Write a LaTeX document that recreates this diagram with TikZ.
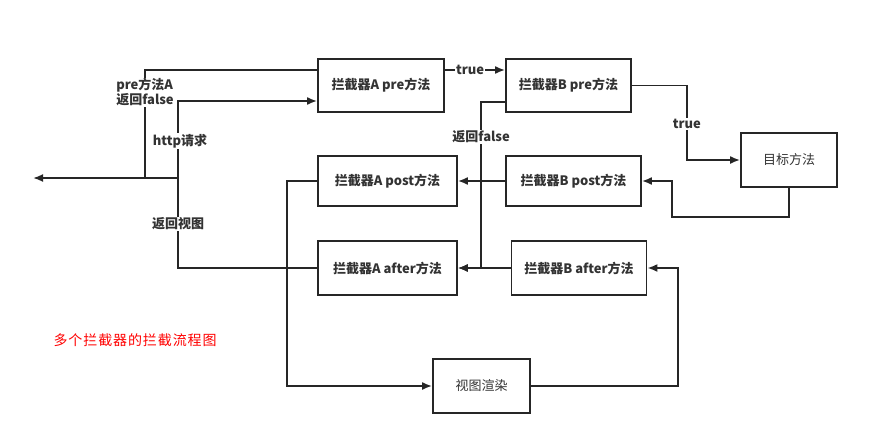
\documentclass[tikz,border=0pt]{standalone}
\usepackage{fontspec}
\setmainfont{Noto Sans CJK SC}
\newfontfamily\notefont[LetterSpace=6.5]{Noto Sans CJK SC}
\usetikzlibrary{arrows.meta}
\definecolor{linec}{HTML}{262626}
\definecolor{txtc}{HTML}{333333}

\begin{document}
\begin{tikzpicture}[x=1pt,y=-1pt,>={Latex[length=10pt,width=8pt]},
  blk/.style={draw=linec,line width=1.8pt,fill=white,text=txtc,font=\bfseries\fontsize{13}{15}\selectfont},
  plainblk/.style={blk,font=\fontsize{13}{15}\selectfont},
  lbl/.style={fill=white,inner sep=1pt,text=txtc,font=\bfseries\fontsize{13}{15}\selectfont},
  wire/.style={draw=linec,line width=1.8pt}]
\useasboundingbox (0,0) rectangle (880,436);

% boxes
\node[blk,minimum width=126pt,minimum height=53pt] (apre) at (381,85.5) {拦截器A pre方法};
\node[blk,minimum width=125pt,minimum height=53pt] (bpre) at (568.5,85.5) {拦截器B pre方法};
\node[blk,minimum width=139pt,minimum height=50pt] (apost) at (387.5,181) {拦截器A post方法};
\node[blk,minimum width=135pt,minimum height=50pt] (bpost) at (573.5,181) {拦截器B post方法};
\node[blk,minimum width=139pt,minimum height=54pt] (aafter) at (387.5,268) {拦截器A after方法};
\node[blk,minimum width=135pt,minimum height=54pt] (bafter) at (579,268) {拦截器B after方法};
\node[plainblk,minimum width=96pt,minimum height=54pt] (target) at (789,160) {目标方法};
\node[plainblk,minimum width=97pt,minimum height=54pt] (render) at (481.5,386) {视图渲染};

\node[text=red,font=\notefont\fontsize{14}{16}\selectfont,anchor=west] (title) at (50,340) {多个拦截器的拦截流程图};

% left side
\coordinate (exit) at (33,178);
\coordinate (ja) at (145,178);
\coordinate (jb) at (178,178);
\draw[wire,->] (jb) -- (exit);
\draw[wire] ([yshift=15.5pt]apre.west) -| (ja)
  node[lbl,align=left,pos=0.604] (lfa) {pre方法A\\返回false};
\draw[wire,->] (jb) |- ([yshift=-15.5pt]apre.west)
  node[lbl,pos=0.24,xshift=2pt] (lhttp) {http请求};
\draw[wire] (aafter.west) -| (jb)
  node[lbl,pos=0.745] (lview) {返回视图};

% pre chain
\draw[wire,->] ([yshift=15.5pt]apre.east) -- ([yshift=15.5pt]bpre.west)
  node[lbl,pos=0.42] (lt1) {true};
\draw[wire,->] (bpre.east) -- ++(55,0) -- ++(0,38.5) node[lbl] (lt2) {true} |- (target.west);
\draw[wire,->] (target.south) -- ++(0,29) -- ++(-117,0) |- (bpost.east);
\draw[wire,->] ([yshift=-16.5pt]bpre.west) -- ++(-24,0) |- (aafter.east)
  node[lbl,pos=0.105] (lfb) {返回false};

% post / after chain
\draw[wire,->] (bpost.west) -- (apost.east);
\draw[wire,->] (bafter.west) -- (aafter.east);
\draw[wire,->] (apost.west) -- ++(-30,0) |- (render.west);
\draw[wire,->] (render.east) -- ++(147,0) |- (bafter.east);
\end{tikzpicture}
\end{document}
